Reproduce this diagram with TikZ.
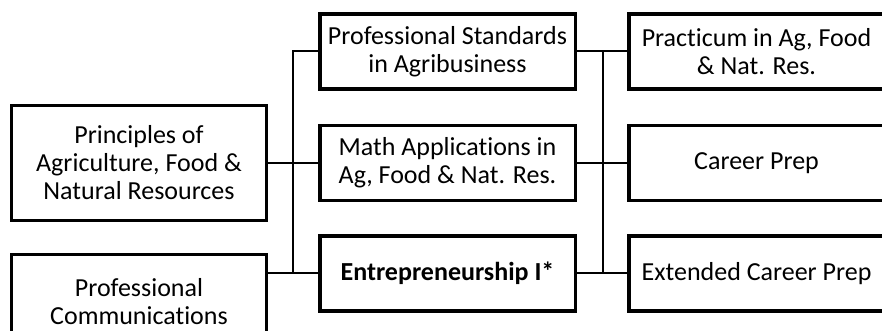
\documentclass[tikz,border=0pt]{standalone}
\usepackage{fontspec}
\setmainfont{Carlito}[Ligatures=NoCommon]
\usepackage{tikz}

\begin{document}
\begin{tikzpicture}[line cap=rect,x=0.75pt,y=-0.75pt,
  course/.style={draw,line width=2.6pt,align=center,inner sep=0pt,
    minimum width=191.6pt,minimum height=56pt,
    font=\fontsize{19.5}{21}\selectfont},
  link/.style={line width=1.5pt}]
\useasboundingbox (0,0) rectangle (882,331);
\clip (0,0) rectangle (882,331);
% first column
\node[course,minimum height=85.9pt] (prin) at (139,163) {Principles of\\Agriculture, Food \&\\Natural Resources};
\node[course,minimum height=70.9pt] (comm) at (139,302) {Professional\\Communications};
% second column
\node[course] (stand) at (447.5,51.5) {Professional Standards\\in Agribusiness};
\node[course] (math) at (447.5,163) {Math Applications in\\Ag, Food \& Nat. Res.};
\node[course,font=\fontsize{19.5}{21}\selectfont\bfseries] (entre) at (447.5,273.5) {Entrepreneurship I*};
% third column
\node[course] (pract) at (756.5,51.5) {Practicum in Ag, Food\\\& Nat. Res.};
\node[course] (career) at (756.5,163) {Career Prep};
\node[course] (ext) at (756.5,273.5) {Extended Career Prep};
% buses
\coordinate (lbus) at (293,0);
\coordinate (rbus) at (603,0);
\draw[link] (prin.east) -- (math.west);
\draw[link] (comm.east |- entre.west) -- (entre.west);
\draw[link] (stand.west) -- (lbus |- stand.west) -- (lbus |- entre.west);
\draw[link] (stand.east) -- (pract.west);
\draw[link] (math.east) -- (career.west);
\draw[link] (entre.east) -- (ext.west);
\draw[link] (rbus |- stand.east) -- (rbus |- entre.east);
\end{tikzpicture}
\end{document}
